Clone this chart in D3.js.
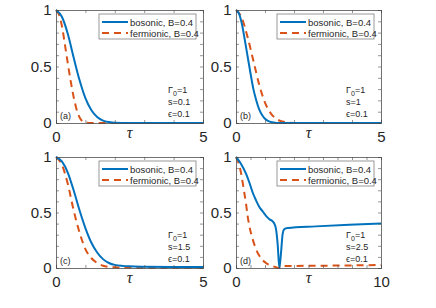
<!DOCTYPE html>
<html>
<head>
<meta charset="utf-8">
<script src="https://cdn.jsdelivr.net/npm/d3@7"></script>
<style>
  body { margin: 0; background: #fff; }
  svg text { font-family: "Liberation Sans", Arial, sans-serif; }
</style>
</head>
<body>
<div id="chart"></div>
<script>
var W = 436, H = 308

// panel (a) s=0.1
var tauA_b = [0, 0.2, 0.4, 0.6, 0.8, 1.0, 1.2, 1.4, 1.6, 1.8, 2.0, 2.5, 3, 4, 5]
var bosA = [1, 0.94, 0.79, 0.58, 0.38, 0.22, 0.115, 0.053, 0.021, 0.008, 0.002, 0, 0, 0, 0]
var tauA_f = [0, 0.1, 0.2, 0.3, 0.4, 0.5, 0.6, 0.7, 0.8, 0.9, 1.0, 1.2, 2, 3, 4, 5]
var ferA = [1, 0.96, 0.86, 0.70, 0.53, 0.37, 0.23, 0.12, 0.05, 0.015, 0.003, 0, 0, 0, 0, 0]

// panel (b) s=1
var tauB_b = [0, 0.1, 0.2, 0.3, 0.4, 0.5, 0.6, 0.7, 0.8, 0.9, 1.0, 1.1, 1.2, 1.3, 1.4, 1.5, 2, 3, 4, 5]
var bosB = [1, 0.97, 0.88, 0.74, 0.59, 0.44, 0.30, 0.20, 0.12, 0.07, 0.037, 0.018, 0.009, 0.004, 0.001, 0, 0, 0, 0, 0]
var tauB_f = [0, 0.2, 0.4, 0.6, 0.8, 1.0, 1.2, 1.4, 1.6, 1.8, 2.0, 2.5, 3, 4, 5]
var ferB = [1, 0.93, 0.76, 0.55, 0.34, 0.18, 0.085, 0.035, 0.013, 0.004, 0.001, 0, 0, 0, 0]

// panel (c) s=1.5
var tauC = [0, 0.2, 0.4, 0.6, 0.8, 1.0, 1.2, 1.4, 1.6, 1.8, 2.0, 2.5, 3, 4, 5]
var bosC = [1, 0.96, 0.86, 0.70, 0.52, 0.36, 0.23, 0.14, 0.08, 0.045, 0.028, 0.015, 0.012, 0.01, 0.01]
var ferC = [1, 0.93, 0.76, 0.52, 0.32, 0.17, 0.09, 0.045, 0.02, 0.01, 0.006, 0.004, 0.003, 0.003, 0.003]

// panel (d) s=2.5
var tauD_b = [0, 0.34, 0.69, 0.92, 1.15, 1.38, 1.61, 1.84, 2.07, 2.3, 2.53, 2.64, 2.76, 2.87, 2.99, 3.1, 3.22, 3.33, 3.56, 5.5, 7.8, 10]
var bosD = [1, 0.94, 0.85, 0.77, 0.68, 0.61, 0.55, 0.51, 0.47, 0.44, 0.42, 0.40, 0.35, 0.22, 0, 0.13, 0.31, 0.35, 0.36, 0.375, 0.39, 0.40]
var tauD_f = [0, 0.11, 0.23, 0.34, 0.46, 0.57, 0.69, 0.8, 0.92, 1.15, 1.38, 1.61, 1.84, 2.07, 2.3, 2.64, 2.87, 3.0, 3.1, 3.33, 5.5, 10]
var ferD = [1, 0.97, 0.92, 0.86, 0.77, 0.68, 0.58, 0.47, 0.38, 0.26, 0.17, 0.11, 0.07, 0.045, 0.027, 0.012, 0.003, 0, 0.01, 0.018, 0.02, 0.027]

var seriesNames = ["bosonic, B=0.4", "fermionic, B=0.4"]
var colors = ["#0072BD", "#D95319"]
var yTickLabels = {0: "0", 0.5: "0.5", 1: "1"}

var panels = [
  {tag: "(a)", s: "0.1", x: 56, y: 10, w: 147, h: 113, xmax: 5, bt: tauA_b, bv: bosA, ft: tauA_f, fv: ferA},
  {tag: "(b)", s: "1", x: 236, y: 10, w: 145, h: 113, xmax: 5, bt: tauB_b, bv: bosB, ft: tauB_f, fv: ferB},
  {tag: "(c)", s: "1.5", x: 56, y: 157, w: 147, h: 111, xmax: 5, bt: tauC, bv: bosC, ft: tauC, fv: ferC},
  {tag: "(d)", s: "2.5", x: 236, y: 157, w: 145, h: 111, xmax: 10, bt: tauD_b, bv: bosD, ft: tauD_f, fv: ferD}
]

var svg = d3.select("#chart").append("svg")
  .attr("width", W)
  .attr("height", H)

panels.forEach(function(p) {
  var g = svg.append("g").attr("transform", "translate(" + p.x + "," + p.y + ")")
  var x = d3.scaleLinear().domain([0, p.xmax]).range([0, p.w])
  var y = d3.scaleLinear().domain([0, 1]).range([p.h, 0])

  var clipId = "clip" + p.tag.replace(/[()]/g, "")
  g.append("clipPath").attr("id", clipId)
    .append("rect").attr("x", -1).attr("y", -2).attr("width", p.w + 2).attr("height", p.h + 3)

  // lines
  var line = d3.line()
    .x(function(d) { return x(d[0]) })
    .y(function(d) { return y(d[1]) })
    .curve(d3.curveMonotoneX)
  var bos = p.bt.map(function(t, i) { return [t, p.bv[i]] })
  var fer = p.ft.map(function(t, i) { return [t, p.fv[i]] })
  g.append("path").datum(fer)
    .attr("clip-path", "url(#" + clipId + ")")
    .attr("d", line).attr("fill", "none")
    .attr("stroke", colors[1]).attr("stroke-width", 2)
    .attr("stroke-dasharray", "7,5")
  g.append("path").datum(bos)
    .attr("clip-path", "url(#" + clipId + ")")
    .attr("d", line).attr("fill", "none")
    .attr("stroke", colors[0]).attr("stroke-width", 2)

  // axes: ticks inside, on all four sides
  var xt = d3.range(0, p.xmax + 0.001, 1)
  var yt = d3.range(0, 11).map(function(i) { return i / 10 })
  var ax = d3.axisBottom(x).tickValues(xt).tickSize(-3).tickFormat(function(d) { return (d == 0 || d == p.xmax) ? d : "" })
  var axT = d3.axisTop(x).tickValues(xt).tickSize(-3).tickFormat("")
  var ay = d3.axisLeft(y).tickValues(yt).tickSize(-3).tickFormat(function(d) { return yTickLabels[d] || "" })
  var ayR = d3.axisRight(y).tickValues(yt).tickSize(-3).tickFormat("")

  var gx = g.append("g").attr("transform", "translate(0," + p.h + ")").call(ax)
  g.append("g").call(axT)
  var gy = g.append("g").call(ay)
  g.append("g").attr("transform", "translate(" + p.w + ",0)").call(ayR)
  g.selectAll(".domain").attr("stroke", "#4d4d4d").attr("stroke-width", 0.8)
  g.selectAll(".tick line").attr("stroke", "#4d4d4d").attr("stroke-width", 0.6)
  gx.selectAll("text").attr("font-size", 15).attr("fill", "#262626").attr("dy", "1.05em")
  gy.selectAll("text").attr("font-size", 15).attr("fill", "#262626").attr("dx", "-0.1em")

  // x label
  g.append("text")
    .attr("x", p.w / 2).attr("y", p.h + 15)
    .attr("text-anchor", "middle")
    .style("font-family", "'Liberation Serif', 'Times New Roman', serif")
    .style("font-style", "italic")
    .attr("font-size", 16)
    .attr("fill", "#262626")
    .text("\u03c4")

  // legend
  var lg = g.append("g").attr("transform", "translate(" + (p.w - 104) + ",4)")
  lg.append("rect").attr("width", 97).attr("height", 25)
    .attr("fill", "#fff").attr("stroke", "#7f7f7f").attr("stroke-width", 0.8)
  seriesNames.forEach(function(name, i) {
    var ly = 8 + i * 11
    lg.append("line").attr("x1", 3).attr("x2", 29).attr("y1", ly).attr("y2", ly)
      .attr("stroke", colors[i]).attr("stroke-width", 2)
      .attr("stroke-dasharray", i == 1 ? "7,5" : null)
    lg.append("text").attr("x", 31).attr("y", ly + 3.5)
      .attr("font-size", 9.5).attr("fill", "#262626").text(name)
  })

  // parameters
  var ann = g.append("g").attr("transform", "translate(" + (p.w - 35) + "," + (p.h - 30) + ")")
  var gam = ann.append("text").attr("x", 0).attr("y", 0).attr("font-size", 9).attr("fill", "#262626")
  gam.append("tspan").text("\u0393")
  gam.append("tspan").attr("font-size", 7).attr("dy", 2.5).text("0")
  gam.append("tspan").attr("dy", -2.5).text("=1")
  ann.append("text").attr("x", 0).attr("y", 12).attr("font-size", 9).attr("fill", "#262626").text("s=" + p.s)
  ann.append("text").attr("x", 0).attr("y", 24).attr("font-size", 9).attr("fill", "#262626").text("\u03f5=0.1")

  g.append("text").attr("x", 4).attr("y", p.h - 4)
    .attr("font-size", 9).attr("fill", "#262626").text(p.tag)
})
</script>
</body>
</html>
